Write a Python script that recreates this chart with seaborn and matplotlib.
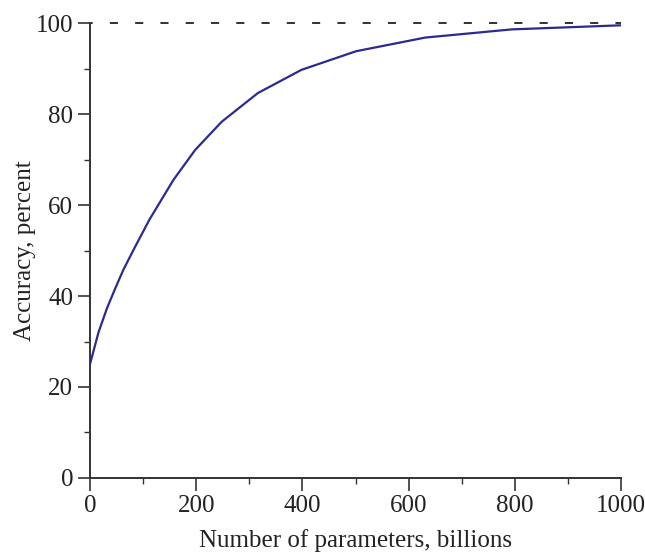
import matplotlib
matplotlib.use("Agg")
import matplotlib.pyplot as plt
from matplotlib.ticker import MultipleLocator
import pandas as pd
import seaborn as sns

params = [0, 16, 32, 48, 63, 84, 112, 157, 198, 248, 316, 398, 501, 631, 794, 1000]
accuracy = [25.0, 32.0, 37.3, 41.8, 45.8, 50.6, 56.8, 65.5, 72.1, 78.3, 84.6, 89.7, 93.8, 96.8, 98.6, 99.5]
ceiling = 100
x_ticks = [0, 200, 400, 600, 800, 1000]
y_ticks = [0, 20, 40, 60, 80, 100]


def main():
	sns.set_style("ticks")
	plt.rcParams["font.family"] = ["Liberation Serif", "DejaVu Serif"]

	df = pd.DataFrame({"params": params, "accuracy": accuracy})

	fig = plt.figure(figsize=(6.45, 5.56), dpi=100)
	ax = fig.add_axes([0.1395, 0.1403, 0.8235, 0.8183])

	ax.axhline(ceiling, color="#222222", lw=1.3, linestyle=(3, (4.5, 9.5)), clip_on=False, zorder=1)
	sns.lineplot(data=df, x="params", y="accuracy", color="#2b2b8f", lw=1.6, ax=ax, zorder=3)

	ax.set_xlim(0, 1000)
	ax.set_ylim(0, 100)
	ax.set_xticks(x_ticks)
	ax.set_yticks(y_ticks)
	ax.xaxis.set_minor_locator(MultipleLocator(100))
	ax.yaxis.set_minor_locator(MultipleLocator(10))
	ax.tick_params(which="major", direction="out", length=9, width=1.2, color="#333333",
		labelsize=18, labelcolor="#222222", pad=3)
	ax.tick_params(which="minor", direction="out", length=4.5, width=1.0, color="#333333")

	sns.despine(ax=ax)
	for side in ["left", "bottom"]:
		ax.spines[side].set_linewidth(1.4)
		ax.spines[side].set_color("#333333")

	ax.set_xlabel("Number of parameters, billions", fontsize=18, color="#222222", labelpad=9)
	ax.set_ylabel("Accuracy, percent", fontsize=18, color="#222222", labelpad=0)

	fig.savefig("out.png", dpi=100)
	plt.close(fig)


if __name__ == "__main__":
	main()
